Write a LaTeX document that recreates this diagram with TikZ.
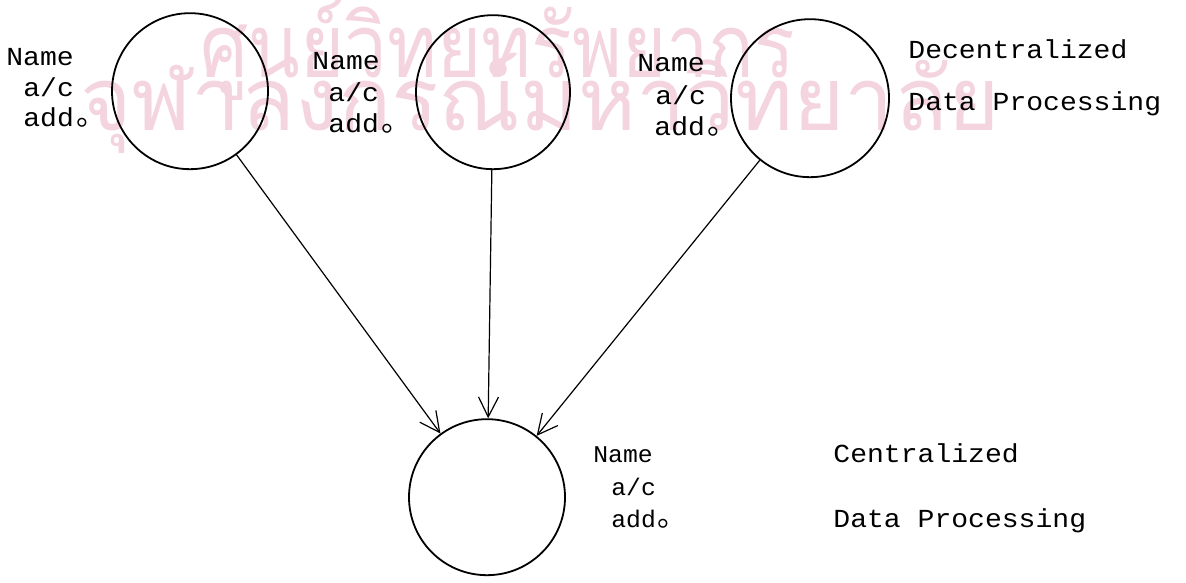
\documentclass[tikz,border=0pt]{standalone}
\usepackage{fontspec}
\usetikzlibrary{arrows.meta}
% typewriter faces for the labels
\newfontfamily\typeA[FakeStretch=1.08]{Liberation Mono}
\newfontfamily\typeB[FakeStretch=1.03]{Liberation Mono}
\newfontfamily\thaimark[Script=Thai]{Loma}
\newfontfamily\cjkdot{Noto Sans CJK SC}
\newcommand{\ringstop}{\hspace{0.08em}\raisebox{0.4pt}{\cjkdot\fontsize{15pt}{15pt}\selectfont 。}}
\definecolor{wmpink}{RGB}{244,212,223}
\begin{document}
\begin{tikzpicture}[x=0.5pt,y=-0.5pt,
  disc/.style={circle,draw,line width=0.9pt,minimum size=#1,inner sep=0pt},
  lbl/.style={anchor=base west,inner sep=0pt,font=\typeA\fontsize{13pt}{15pt}\selectfont},
  lblb/.style={anchor=base west,inner sep=0pt,font=\typeB\fontsize{12pt}{14pt}\selectfont},
  feed/.style={-{Straight Barb[length=10pt,width=10pt]},line width=0.6pt},
  wmark/.style={anchor=base,inner sep=0pt,text=wmpink,font=\thaimark\fontsize{44pt}{44pt}\selectfont}]
  % page
  \fill[white] (0,0) rectangle (1186,577);
  % faint stamp behind the drawing
  \node[wmark] (wm1) at (498,72) {\scalebox{0.86}[1]{ศูนย์วิทยทรัพยากร}};
  \node[wmark] (wm2) at (540,125) {จุฬาลงกรณ์มหาวิทยาลัย};
  % record holders
  \node[disc=78pt] (c1) at (190,86) {};
  \node[disc=77pt] (c2) at (493,87) {};
  \node[disc=79pt] (c3) at (810,93) {};
  \node[disc=78pt] (c4) at (487,492) {};
  % flows into the central file
  \draw[feed] (c1) -- (c4);
  \draw[feed] (c2) -- (c4);
  \draw[feed] (c3) -- (c4);
  % field lists
  \node[lbl] (n1a) at (6,60) {Name};
  \node[lbl] (n1b) at (23,91) {a/c};
  \node[lbl] (n1c) at (23,121) {add\ringstop};
  \node[lbl] (n2a) at (312,64) {Name};
  \node[lbl] (n2b) at (328,96) {a/c};
  \node[lbl] (n2c) at (328,127) {add\ringstop};
  \node[lbl] (n3a) at (637,66) {Name};
  \node[lbl] (n3b) at (655,99) {a/c};
  \node[lbl] (n3c) at (654,130) {add\ringstop};
  \node[lbl] (dec1) at (908,53) {Decentralized};
  \node[lbl] (dec2) at (908,105) {Data Processing};
  \node[lblb] (n4a) at (593,457) {Name};
  \node[lblb] (n4b) at (611,490) {a/c};
  \node[lblb] (n4c) at (611,522) {add\ringstop};
  \node[lbl] (cen1) at (833,457) {Centralized};
  \node[lbl] (cen2) at (833,522) {Data Processing};
\end{tikzpicture}
\end{document}
